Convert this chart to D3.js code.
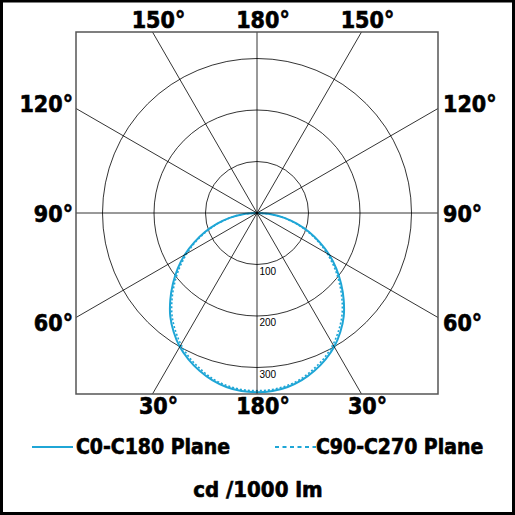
<!DOCTYPE html>
<html>
<head>
<meta charset="utf-8">
<script src="https://cdn.jsdelivr.net/npm/d3@7"></script>
<style>
  body { margin: 0; background: #fff; }
  text { font-family: "Liberation Sans Narrow", "DejaVu Sans Condensed", "Liberation Sans", sans-serif; }
  .heavy { font-weight: bold; stroke: #000; stroke-width: 0.6px; }
</style>
</head>
<body>
<div id="viz"></div>
<script>
var size = 515;
var cx = 257, cy = 213;
var half = 181;
var lineColor = "#1fa6d6";

// gamma angles (deg) and intensities, cd / 1000 lm
var gammaDeg = [0, 5, 10, 15, 20, 25, 30, 35, 40, 45, 50, 55, 60, 65, 70, 75, 80, 85, 90];
var c0c180 = [348, 347, 343, 336, 326, 314, 300, 282, 262, 238, 213, 188, 162, 134, 107, 80, 54, 27, 0];
var c90c270 = [345, 344, 340, 333, 322, 310, 295, 277, 257, 233, 208, 183, 157, 131, 104, 78, 52, 26, 0];

var rings = [100, 200, 300];
var spokes = [-150, -120, -90, -60, -30, 0, 30, 60, 90, 120, 150, 180];
var angleLabels = [
	{ g: -150, t: "150°" }, { g: 180, t: "180°" }, { g: 150, t: "150°" },
	{ g: -120, t: "120°" }, { g: -90, t: "90°" }, { g: -60, t: "60°" },
	{ g: 120, t: "120°" }, { g: 90, t: "90°" }, { g: 60, t: "60°" },
	{ g: -30, t: "30°" }, { g: 0, t: "180°" }, { g: 30, t: "30°" }
];
var series = [
	{ name: "C0-C180 Plane", values: c0c180, dash: null },
	{ name: "C90-C270 Plane", values: c90c270, dash: "2,2" }
];

var r = d3.scaleLinear()
	.domain([0, 100])
	.range([0, 51.5]);

var rad = function(g) { return g * Math.PI / 180; };

// end of a spoke on the square frame
var spokeEnd = function(g) {
	var s = Math.sin(rad(g)), c = Math.cos(rad(g));
	var len = half / Math.max(Math.abs(s), Math.abs(c));
	return [cx + len * s, cy + len * c];
};

var svg = d3.select("#viz").append("svg")
		.attr("width", size)
		.attr("height", size);

svg.append("rect")
	.attr("x", 1.5).attr("y", 1)
	.attr("width", size - 3).attr("height", size - 2.5)
	.attr("fill", "#fff")
	.attr("stroke", "#000")
	.attr("stroke-width", 3);

var plot = svg.append("g")
	.attr("transform", "translate(" + cx + "," + cy + ")");

plot.selectAll(".ring")
		.data(rings)
	.enter().append("circle")
		.attr("class", "ring")
		.attr("r", function(d) { return r(d); })
		.attr("fill", "none")
		.attr("stroke", "#000")
		.attr("stroke-width", 0.8);

svg.selectAll(".spoke")
		.data(spokes)
	.enter().append("line")
		.attr("class", "spoke")
		.attr("x1", cx).attr("y1", cy)
		.attr("x2", function(d) { return spokeEnd(d)[0]; })
		.attr("y2", function(d) { return spokeEnd(d)[1]; })
		.attr("stroke", "#000")
		.attr("stroke-width", 0.8);

svg.append("rect")
	.attr("x", cx - half).attr("y", cy - half)
	.attr("width", 2 * half).attr("height", 2 * half)
	.attr("fill", "none")
	.attr("stroke", "#555")
	.attr("stroke-width", 1.5);

plot.selectAll(".ringLabel")
		.data(rings)
	.enter().append("text")
		.attr("class", "ringLabel")
		.attr("x", 2.5)
		.attr("y", function(d) { return r(d) + 10; })
		.style("font-family", "'Liberation Sans', Arial, sans-serif")
		.style("font-size", "10px")
		.text(function(d) { return d; });

// intensity curves, mirrored for both halves of the plane
var line = d3.lineRadial()
	.angle(function(d) { return Math.PI - rad(d.g); })
	.radius(function(d) { return r(d.v); })
	.curve(d3.curveCatmullRom);

series.forEach(function(s) {
	var pts = gammaDeg.map(function(g, i) { return { g: g, v: s.values[i] }; });
	var left = pts.slice(1).reverse().map(function(d) { return { g: -d.g, v: d.v }; });
	plot.append("path")
		.datum(left.concat(pts))
		.attr("d", line)
		.attr("fill", "none")
		.attr("stroke", lineColor)
		.attr("stroke-width", s.dash ? 1.6 : 2)
		.attr("stroke-dasharray", s.dash);
});

svg.selectAll(".angleLabel")
		.data(angleLabels)
	.enter().append("text")
		.attr("class", "angleLabel heavy")
		.attr("x", function(d) {
			var e = spokeEnd(d.g);
			if (Math.abs(d.g) >= 150 || Math.abs(d.g) <= 30) return e[0] + 6;
			return d.g < 0 ? e[0] - 3 : e[0] + 5;
		})
		.attr("y", function(d) {
			var e = spokeEnd(d.g);
			if (Math.abs(d.g) >= 150) return e[1] - 4;
			if (Math.abs(d.g) <= 30) return e[1] + 20;
			return cy + (e[1] - cy) * 1.05 + 8.5;
		})
		.attr("text-anchor", function(d) {
			if (Math.abs(d.g) >= 150 || Math.abs(d.g) <= 30) return "middle";
			return d.g < 0 ? "end" : "start";
		})
		.style("font-size", "23px")
		.text(function(d) { return d.t; });

// legend
var legend = svg.selectAll(".legend")
		.data(series)
	.enter().append("g")
		.attr("class", "legend")
		.attr("transform", function(d, i) { return "translate(" + (i === 0 ? 32 : 275) + ",447)"; });

legend.append("line")
	.attr("x1", 0).attr("x2", 41)
	.attr("stroke", lineColor)
	.attr("stroke-width", 2)
	.attr("stroke-dasharray", function(d) { return d.dash ? "4,3.5" : null; });

legend.append("text")
	.attr("class", "heavy")
	.attr("x", function(d, i) { return i === 0 ? 44 : 41; })
	.attr("y", 7)
	.style("font-size", "21px")
	.text(function(d) { return d.name; });

svg.append("text")
	.attr("class", "heavy")
	.attr("x", cx + 1)
	.attr("y", 497)
	.attr("text-anchor", "middle")
	.style("font-size", "22px")
	.text("cd /1000 lm");
</script>
</body>
</html>
